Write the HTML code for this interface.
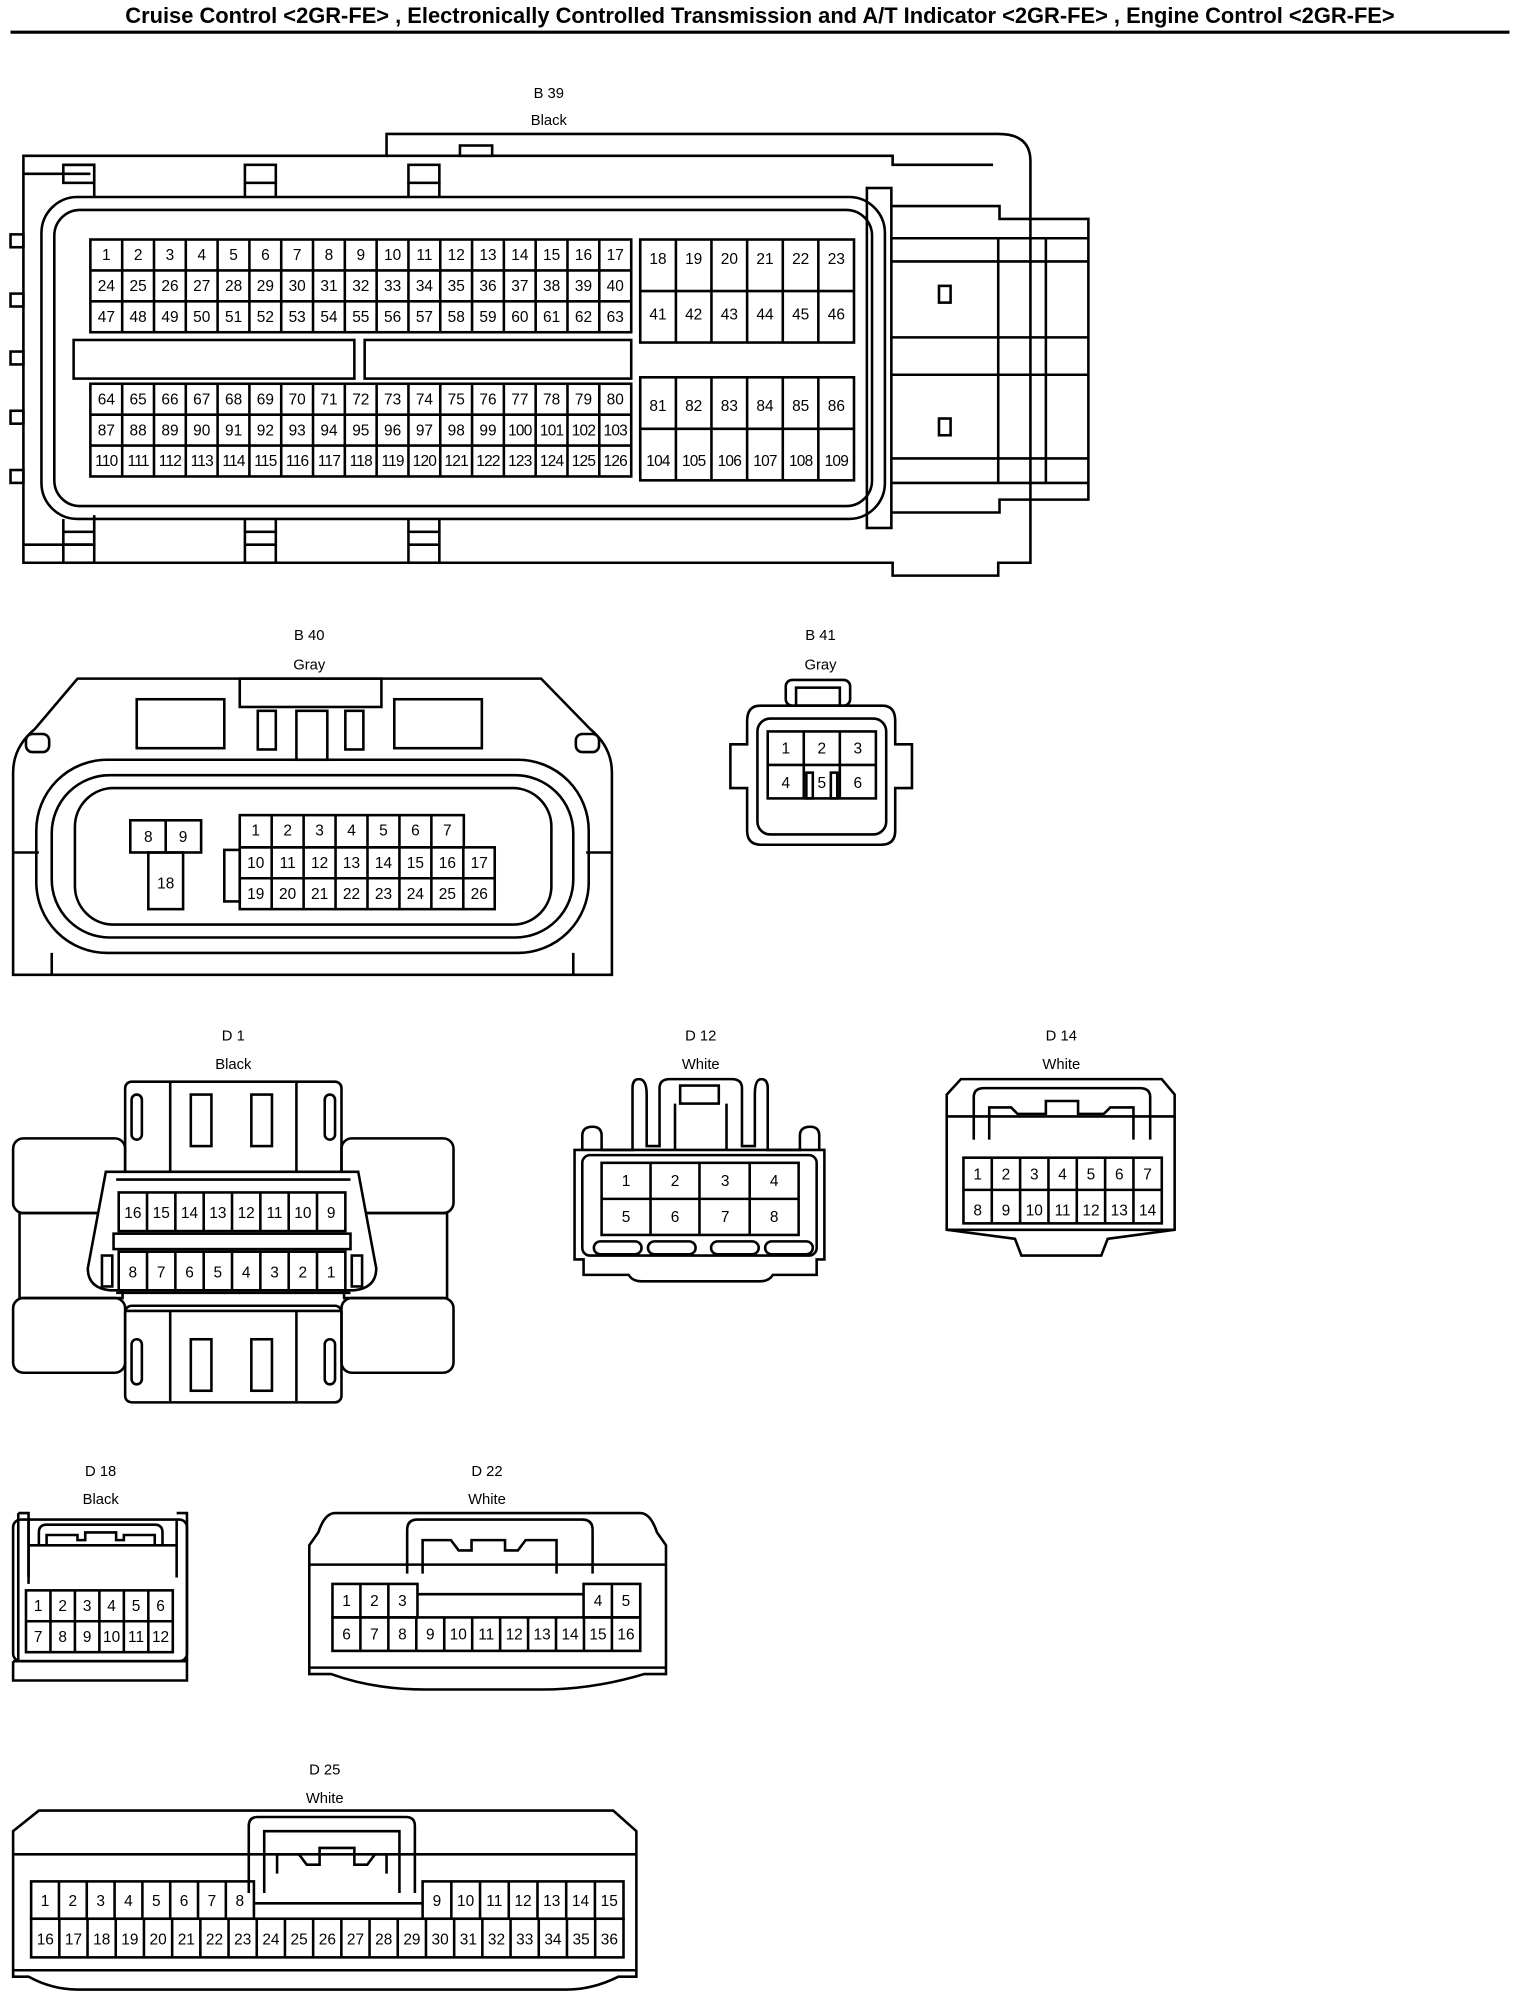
<!DOCTYPE html>
<html><head><meta charset="utf-8"><style>
html,body{margin:0;padding:0;background:#fff}
svg{display:block}
text{font-family:"Liberation Sans",sans-serif;font-size:12px;fill:#000;text-anchor:middle}
.t{font-size:11.5px}
.h{font-weight:bold;font-size:17px}
.n{letter-spacing:-0.6px}
</style></head><body>
<svg width="1520" height="1996" viewBox="0 0 1180 1550" xmlns="http://www.w3.org/2000/svg">
<g fill="none" stroke="#000" stroke-width="2">
<text class="h" x="590" y="18" stroke="none">Cruise Control &lt;2GR-FE&gt; , Electronically Controlled Transmission and A/T Indicator &lt;2GR-FE&gt; , Engine Control &lt;2GR-FE&gt;</text>
<line x1="8" y1="25" x2="1172" y2="25" stroke-width="2.5"/>

<!-- B39 -->
<text class="t" x="426" y="76" stroke="none">B 39</text>
<text class="t" x="426" y="97" stroke="none">Black</text>
<path d="M18 121 H300 V104 H775 Q800 104 800 125 V437 H775 V447 H693 V437 H18 Z"/>
<path d="M18 135 H70 M18 423 H70"/>
<rect x="357" y="113" width="25" height="8"/>
<path d="M300 121 H693 V128 H771"/>
<path d="M50 128 H73 V153 M50 423 H73 V400"/>
<rect x="49" y="128" width="24" height="14"/><rect x="190" y="128" width="24" height="14"/><rect x="317" y="128" width="24" height="14"/>
<path d="M190 142 V153 M214 142 V153 M317 142 V153 M341 142 V153"/>
<rect x="49" y="413" width="24" height="24"/><rect x="190" y="413" width="24" height="24"/><rect x="317" y="413" width="24" height="24"/>
<path d="M49 423 H73 M190 423 H214 M317 423 H341 M190 403 V413 M214 403 V413 M317 403 V413 M341 403 V413 M49 403 V413 M73 403 V413"/>
<rect x="8" y="182" width="10" height="10"/><rect x="8" y="228" width="10" height="10"/><rect x="8" y="273" width="10" height="10"/><rect x="8" y="319" width="10" height="10"/><rect x="8" y="365" width="10" height="10"/>
<rect x="32" y="153" width="655" height="250" rx="28"/>
<rect x="42" y="163" width="635" height="230" rx="20"/>
<rect x="673" y="146" width="19" height="264"/>
<path d="M692 160 H776 V170 H845 V388 H776 V398 H692"/>
<path d="M692 185 H845 M692 203 H845 M692 262 H845 M692 291 H845 M692 356 H845 M692 375 H845 M775 185 V375 M812 185 V375"/>
<rect x="729" y="222" width="9" height="13"/><rect x="729" y="325" width="9" height="13"/>
<rect x="57" y="264" width="218" height="30"/><rect x="283" y="264" width="207" height="30"/>
<rect x="70" y="186" width="420" height="72"/>
<path d="M70 210 H490 M70 234 H490 M94.7 186V258M119.4 186V258M144.1 186V258M168.8 186V258M193.5 186V258M218.2 186V258M242.9 186V258M267.6 186V258M292.3 186V258M317 186V258M341.7 186V258M366.4 186V258M391.1 186V258M415.8 186V258M440.5 186V258M465.2 186V258"/>
<rect x="70" y="298" width="420" height="72"/>
<path d="M70 322 H490 M70 346 H490 M94.7 298V370M119.4 298V370M144.1 298V370M168.8 298V370M193.5 298V370M218.2 298V370M242.9 298V370M267.6 298V370M292.3 298V370M317 298V370M341.7 298V370M366.4 298V370M391.1 298V370M415.8 298V370M440.5 298V370M465.2 298V370"/>
<rect x="497" y="186" width="166" height="80"/>
<path d="M497 226 H663 M524.7 186V266M552.3 186V266M580 186V266M607.7 186V266M635.3 186V266"/>
<rect x="497" y="293" width="166" height="80"/>
<path d="M497 333 H663 M524.7 293V373M552.3 293V373M580 293V373M607.7 293V373M635.3 293V373"/>
</g>
<g>
<text x="82.4" y="202">1</text><text x="107.1" y="202">2</text><text x="131.8" y="202">3</text><text x="156.5" y="202">4</text><text x="181.2" y="202">5</text><text x="205.9" y="202">6</text><text x="230.6" y="202">7</text><text x="255.3" y="202">8</text><text x="280" y="202">9</text><text x="304.7" y="202">10</text><text x="329.4" y="202">11</text><text x="354.1" y="202">12</text><text x="378.8" y="202">13</text><text x="403.5" y="202">14</text><text x="428.2" y="202">15</text><text x="452.9" y="202">16</text><text x="477.6" y="202">17</text>
<text x="82.4" y="226">24</text><text x="107.1" y="226">25</text><text x="131.8" y="226">26</text><text x="156.5" y="226">27</text><text x="181.2" y="226">28</text><text x="205.9" y="226">29</text><text x="230.6" y="226">30</text><text x="255.3" y="226">31</text><text x="280" y="226">32</text><text x="304.7" y="226">33</text><text x="329.4" y="226">34</text><text x="354.1" y="226">35</text><text x="378.8" y="226">36</text><text x="403.5" y="226">37</text><text x="428.2" y="226">38</text><text x="452.9" y="226">39</text><text x="477.6" y="226">40</text>
<text x="82.4" y="250">47</text><text x="107.1" y="250">48</text><text x="131.8" y="250">49</text><text x="156.5" y="250">50</text><text x="181.2" y="250">51</text><text x="205.9" y="250">52</text><text x="230.6" y="250">53</text><text x="255.3" y="250">54</text><text x="280" y="250">55</text><text x="304.7" y="250">56</text><text x="329.4" y="250">57</text><text x="354.1" y="250">58</text><text x="378.8" y="250">59</text><text x="403.5" y="250">60</text><text x="428.2" y="250">61</text><text x="452.9" y="250">62</text><text x="477.6" y="250">63</text>
<text x="82.4" y="314">64</text><text x="107.1" y="314">65</text><text x="131.8" y="314">66</text><text x="156.5" y="314">67</text><text x="181.2" y="314">68</text><text x="205.9" y="314">69</text><text x="230.6" y="314">70</text><text x="255.3" y="314">71</text><text x="280" y="314">72</text><text x="304.7" y="314">73</text><text x="329.4" y="314">74</text><text x="354.1" y="314">75</text><text x="378.8" y="314">76</text><text x="403.5" y="314">77</text><text x="428.2" y="314">78</text><text x="452.9" y="314">79</text><text x="477.6" y="314">80</text>
<text x="82.4" y="338">87</text><text x="107.1" y="338">88</text><text x="131.8" y="338">89</text><text x="156.5" y="338">90</text><text x="181.2" y="338">91</text><text x="205.9" y="338">92</text><text x="230.6" y="338">93</text><text x="255.3" y="338">94</text><text x="280" y="338">95</text><text x="304.7" y="338">96</text><text x="329.4" y="338">97</text><text x="354.1" y="338">98</text><text x="378.8" y="338">99</text><text class="n" x="403.5" y="338">100</text><text class="n" x="428.2" y="338">101</text><text class="n" x="452.9" y="338">102</text><text class="n" x="477.6" y="338">103</text>
<text class="n" x="82.4" y="362">110</text><text class="n" x="107.1" y="362">111</text><text class="n" x="131.8" y="362">112</text><text class="n" x="156.5" y="362">113</text><text class="n" x="181.2" y="362">114</text><text class="n" x="205.9" y="362">115</text><text class="n" x="230.6" y="362">116</text><text class="n" x="255.3" y="362">117</text><text class="n" x="280" y="362">118</text><text class="n" x="304.7" y="362">119</text><text class="n" x="329.4" y="362">120</text><text class="n" x="354.1" y="362">121</text><text class="n" x="378.8" y="362">122</text><text class="n" x="403.5" y="362">123</text><text class="n" x="428.2" y="362">124</text><text class="n" x="452.9" y="362">125</text><text class="n" x="477.6" y="362">126</text>
<text x="510.8" y="205">18</text><text x="538.5" y="205">19</text><text x="566.2" y="205">20</text><text x="593.9" y="205">21</text><text x="621.6" y="205">22</text><text x="649.3" y="205">23</text>
<text x="510.8" y="248">41</text><text x="538.5" y="248">42</text><text x="566.2" y="248">43</text><text x="593.9" y="248">44</text><text x="621.6" y="248">45</text><text x="649.3" y="248">46</text>
<text x="510.8" y="319">81</text><text x="538.5" y="319">82</text><text x="566.2" y="319">83</text><text x="593.9" y="319">84</text><text x="621.6" y="319">85</text><text x="649.3" y="319">86</text>
<text class="n" x="510.8" y="362">104</text><text class="n" x="538.5" y="362">105</text><text class="n" x="566.2" y="362">106</text><text class="n" x="593.9" y="362">107</text><text class="n" x="621.6" y="362">108</text><text class="n" x="649.3" y="362">109</text>
</g>

<!-- B40 -->
<g fill="none" stroke="#000" stroke-width="2">
<text class="t" x="240" y="497" stroke="none">B 40</text>
<text class="t" x="240" y="520" stroke="none">Gray</text>
<path d="M60 527 H420 L458 566 Q475 580 475 600 V757 H10 V600 Q10 580 27 566 Z"/>
<rect x="20" y="570" width="18" height="14" rx="5"/><rect x="447" y="570" width="18" height="14" rx="5"/>
<rect x="106" y="543" width="68" height="38"/><rect x="306" y="543" width="68" height="38"/>
<rect x="186" y="527" width="110" height="22"/><rect x="200" y="552" width="14" height="30"/><rect x="230" y="552" width="24" height="38"/><rect x="268" y="552" width="14" height="30"/>
<rect x="28" y="590" width="429" height="150" rx="55"/>
<rect x="40" y="602" width="405" height="126" rx="45"/>
<rect x="58" y="612" width="370" height="106" rx="30"/>
<path d="M10 662 H30 M455 662 H475 M40 740 V757 M445 740 V757"/>
<rect x="101" y="637" width="55" height="25"/><path d="M128.5 637 V662"/>
<rect x="115" y="662" width="27" height="44"/>
<rect x="174" y="660" width="12" height="40"/>
<rect x="186" y="633" width="174" height="25"/>
<path d="M210.8 633V658M235.6 633V658M260.4 633V658M285.2 633V658M310 633V658M334.8 633V658"/>
<rect x="186" y="658" width="198" height="48"/>
<path d="M186 682 H384 M210.8 658V706M235.6 658V706M260.4 658V706M285.2 658V706M310 658V706M334.8 658V706M359.6 658V706"/>
</g>
<g>
<text x="115" y="654">8</text><text x="142" y="654">9</text><text x="128.5" y="690">18</text>
<text x="198.4" y="649">1</text><text x="223.2" y="649">2</text><text x="248" y="649">3</text><text x="272.8" y="649">4</text><text x="297.6" y="649">5</text><text x="322.4" y="649">6</text><text x="347.2" y="649">7</text>
<text x="198.4" y="674">10</text><text x="223.2" y="674">11</text><text x="248" y="674">12</text><text x="272.8" y="674">13</text><text x="297.6" y="674">14</text><text x="322.4" y="674">15</text><text x="347.2" y="674">16</text><text x="372" y="674">17</text>
<text x="198.4" y="698">19</text><text x="223.2" y="698">20</text><text x="248" y="698">21</text><text x="272.8" y="698">22</text><text x="297.6" y="698">23</text><text x="322.4" y="698">24</text><text x="347.2" y="698">25</text><text x="372" y="698">26</text>
</g>

<!-- B41 -->
<g fill="none" stroke="#000" stroke-width="2">
<text class="t" x="637" y="497" stroke="none">B 41</text>
<text class="t" x="637" y="520" stroke="none">Gray</text>
<rect x="610" y="528" width="50" height="20" rx="5"/><rect x="618" y="534" width="34" height="14"/>
<path d="M590 548 H685 Q695 548 695 560 V578 H708 V612 H695 V645 Q695 656 684 656 H591 Q580 656 580 645 V612 H567 V578 H580 V560 Q580 548 590 548 Z"/>
<rect x="588" y="558" width="100" height="90" rx="10"/>
<rect x="596" y="568" width="84" height="52"/>
<path d="M596 594 H680 M624 568 V620 M652 568 V620"/>
<rect x="626" y="600" width="5" height="20"/><rect x="645" y="600" width="5" height="20"/>
</g>
<g><text x="610" y="585">1</text><text x="638" y="585">2</text><text x="666" y="585">3</text><text x="610" y="612">4</text><text x="638" y="612">5</text><text x="666" y="612">6</text></g>

<!-- D1 -->
<g fill="none" stroke="#000" stroke-width="2">
<text class="t" x="181" y="808" stroke="none">D 1</text>
<text class="t" x="181" y="830" stroke="none">Black</text>
<rect x="97" y="840" width="168" height="75" rx="5"/>
<rect x="97" y="1014" width="168" height="75" rx="5"/>
<path d="M97 910 H265 M97 1018 H265 M132 840 V910 M230 840 V910 M132 1018 V1088 M230 1018 V1088"/>
<rect x="148" y="850" width="16" height="40"/><rect x="195" y="850" width="16" height="40"/>
<rect x="148" y="1040" width="16" height="40"/><rect x="195" y="1040" width="16" height="40"/>
<rect x="102" y="850" width="8" height="35" rx="4"/><rect x="252" y="850" width="8" height="35" rx="4"/>
<rect x="102" y="1040" width="8" height="35" rx="4"/><rect x="252" y="1040" width="8" height="35" rx="4"/>
<rect x="10" y="884" width="87" height="58" rx="8"/><rect x="265" y="884" width="87" height="58" rx="8"/>
<rect x="10" y="1008" width="87" height="58" rx="8"/><rect x="265" y="1008" width="87" height="58" rx="8"/>
<rect x="15" y="942" width="80" height="66"/><rect x="267" y="942" width="80" height="66"/>
<path d="M82 910 L68 985 Q68 1000 85 1002 L275 1002 Q292 1000 292 985 L278 910 Z" fill="#fff"/>
<path d="M90 916 H272 M90 1004 H272"/>
<rect x="92" y="926" width="176" height="30"/>
<path d="M114 926V956M136 926V956M158 926V956M180 926V956M202 926V956M224 926V956M246 926V956"/>
<rect x="88" y="958" width="184" height="12"/>
<rect x="92" y="972" width="176" height="30"/>
<path d="M114 972V1002M136 972V1002M158 972V1002M180 972V1002M202 972V1002M224 972V1002M246 972V1002"/>
<rect x="79" y="975" width="8" height="24"/><rect x="273" y="975" width="8" height="24"/>
</g>
<g>
<text x="103" y="946">16</text><text x="125" y="946">15</text><text x="147" y="946">14</text><text x="169" y="946">13</text><text x="191" y="946">12</text><text x="213" y="946">11</text><text x="235" y="946">10</text><text x="257" y="946">9</text>
<text x="103" y="992">8</text><text x="125" y="992">7</text><text x="147" y="992">6</text><text x="169" y="992">5</text><text x="191" y="992">4</text><text x="213" y="992">3</text><text x="235" y="992">2</text><text x="257" y="992">1</text>
</g>

<!-- D12 -->
<g fill="none" stroke="#000" stroke-width="2">
<text class="t" x="544" y="808" stroke="none">D 12</text>
<text class="t" x="544" y="830" stroke="none">White</text>
<path d="M452 893 V882 Q452 875 460 875 Q467 875 467 882 V893 H491 V845 Q491 838 496 838 Q502 838 502 850 V890 H512 V845 Q512 838 520 838 H568 Q576 838 576 845 V890 H586 V850 Q586 838 591 838 Q596 838 596 845 V893 H621 V882 Q621 875 629 875 Q636 875 636 882 V893"/>
<rect x="528" y="843" width="30" height="14"/>
<path d="M524 857 V893 M564 857 V893"/>
<path d="M446 893 H640 V978 H634 V990 H600 Q597 995 590 995 H498 Q491 995 488 990 H453 V978 H446 Z"/>
<rect x="452" y="897" width="182" height="78" rx="6"/>
<rect x="467" y="903" width="153" height="56"/>
<path d="M467 931 H620 M505 903V959M543 903V959M582 903V959"/>
<rect x="461" y="964" width="37" height="10" rx="5"/><rect x="503" y="964" width="37" height="10" rx="5"/><rect x="552" y="964" width="37" height="10" rx="5"/><rect x="594" y="964" width="37" height="10" rx="5"/>
</g>
<g><text x="486" y="921">1</text><text x="524" y="921">2</text><text x="563" y="921">3</text><text x="601" y="921">4</text><text x="486" y="949">5</text><text x="524" y="949">6</text><text x="563" y="949">7</text><text x="601" y="949">8</text></g>

<!-- D14 -->
<g fill="none" stroke="#000" stroke-width="2">
<text class="t" x="824" y="808" stroke="none">D 14</text>
<text class="t" x="824" y="830" stroke="none">White</text>
<path d="M746 838 H902 L912 850 V955 L860 962 L855 975 H793 L788 962 L735 955 V850 Z"/>
<path d="M735 955 H912 M735 867 H912"/>
<path d="M756 885 V852 Q756 845 764 845 H885 Q893 845 893 852 V885"/>
<path d="M768 885 V860 H785 L790 865 H812 V855 H837 V865 H857 L862 860 H880 V885"/>
<rect x="748" y="899" width="154" height="51"/>
<path d="M748 924 H902 M770 899V950M792 899V950M814 899V950M836 899V950M858 899V950M880 899V950"/>
</g>
<g><text x="759" y="916">1</text><text x="781" y="916">2</text><text x="803" y="916">3</text><text x="825" y="916">4</text><text x="847" y="916">5</text><text x="869" y="916">6</text><text x="891" y="916">7</text>
<text x="759" y="944">8</text><text x="781" y="944">9</text><text x="803" y="944">10</text><text x="825" y="944">11</text><text x="847" y="944">12</text><text x="869" y="944">13</text><text x="891" y="944">14</text></g>

<!-- D18 -->
<g fill="none" stroke="#000" stroke-width="2">
<text class="t" x="78" y="1146" stroke="none">D 18</text>
<text class="t" x="78" y="1168" stroke="none">Black</text>
<path d="M14 1175 H22 V1230 M137 1175 H145 V1290 M14 1175 V1290"/>
<path d="M10 1290 V1305 H145 V1290 H10"/>
<path d="M22 1180 V1225 M137 1180 V1225"/>
<rect x="10" y="1180" width="135" height="110" rx="6"/>
<path d="M30 1200 V1190 Q30 1184 36 1184 H120 Q126 1184 126 1190 V1200"/>
<path d="M36 1200 V1192 H60 V1196 H66 V1190 H90 V1196 H96 V1192 H120 V1200 M22 1200 H137"/>
<rect x="20" y="1235" width="114" height="48"/>
<path d="M20 1259 H134 M39 1235V1283M58 1235V1283M77 1235V1283M96 1235V1283M115 1235V1283"/>
</g>
<g><text x="29.5" y="1251">1</text><text x="48.5" y="1251">2</text><text x="67.5" y="1251">3</text><text x="86.5" y="1251">4</text><text x="105.5" y="1251">5</text><text x="124.5" y="1251">6</text>
<text x="29.5" y="1275">7</text><text x="48.5" y="1275">8</text><text x="67.5" y="1275">9</text><text x="86.5" y="1275">10</text><text x="105.5" y="1275">11</text><text x="124.5" y="1275">12</text></g>

<!-- D22 -->
<g fill="none" stroke="#000" stroke-width="2">
<text class="t" x="378" y="1146" stroke="none">D 22</text>
<text class="t" x="378" y="1168" stroke="none">White</text>
<path d="M260 1175 H497 Q505 1175 510 1190 L517 1200 V1300 L500 1300 Q460 1312 420 1312 H330 Q290 1312 257 1300 H240 V1200 L247 1190 Q252 1175 260 1175 Z"/>
<path d="M240 1215 H517 M240 1295 H517"/>
<path d="M316 1222 V1188 Q316 1180 324 1180 H452 Q460 1180 460 1188 V1222"/>
<path d="M328 1222 V1196 H350 L356 1204 H366 V1196 H392 V1204 H402 L408 1196 H432 V1222"/>
<rect x="258" y="1230" width="66" height="26"/><path d="M279.7 1230V1256M301.4 1230V1256"/>
<rect x="453" y="1230" width="44" height="26"/><path d="M475 1230V1256"/>
<path d="M324 1238 H453"/>
<rect x="258" y="1256" width="239" height="26"/>
<path d="M279.7 1256V1282M301.4 1256V1282M323.1 1256V1282M344.8 1256V1282M366.5 1256V1282M388.2 1256V1282M409.9 1256V1282M431.6 1256V1282M453.3 1256V1282M475 1256V1282"/>
</g>
<g><text x="268.9" y="1247">1</text><text x="290.6" y="1247">2</text><text x="312.3" y="1247">3</text><text x="464.2" y="1247">4</text><text x="485.9" y="1247">5</text>
<text x="268.9" y="1273">6</text><text x="290.6" y="1273">7</text><text x="312.3" y="1273">8</text><text x="334" y="1273">9</text><text x="355.7" y="1273">10</text><text x="377.4" y="1273">11</text><text x="399.1" y="1273">12</text><text x="420.8" y="1273">13</text><text x="442.5" y="1273">14</text><text x="464.2" y="1273">15</text><text x="485.9" y="1273">16</text></g>

<!-- D25 -->
<g fill="none" stroke="#000" stroke-width="2">
<text class="t" x="252" y="1378" stroke="none">D 25</text>
<text class="t" x="252" y="1400" stroke="none">White</text>
<path d="M30 1406 H476 L494 1422 V1535 H480 Q460 1545 440 1545 H60 Q40 1545 22 1535 H10 V1422 Z"/>
<path d="M10 1440 H494 M10 1530 H494"/>
<path d="M193 1470 V1418 Q193 1411 200 1411 H315 Q322 1411 322 1418 V1470"/>
<path d="M205 1470 V1422 H310 V1470"/>
<path d="M215 1455 V1440 H232 L238 1448 H248 V1435 H275 V1448 H285 L291 1440 H300 V1455"/>
<rect x="24" y="1461" width="173" height="29"/>
<path d="M45.6 1461V1490M67.2 1461V1490M88.8 1461V1490M110.4 1461V1490M132 1461V1490M153.6 1461V1490M175.2 1461V1490"/>
<rect x="328" y="1461" width="156" height="29"/>
<path d="M350.3 1461V1490M372.6 1461V1490M394.9 1461V1490M417.2 1461V1490M439.5 1461V1490M461.8 1461V1490"/>
<path d="M197 1478 H328"/>
<rect x="24" y="1490" width="460" height="30"/>
<path d="M45.9 1490V1520M67.8 1490V1520M89.7 1490V1520M111.6 1490V1520M133.5 1490V1520M155.4 1490V1520M177.3 1490V1520M199.2 1490V1520M221.1 1490V1520M243 1490V1520M264.9 1490V1520M286.8 1490V1520M308.7 1490V1520M330.6 1490V1520M352.5 1490V1520M374.4 1490V1520M396.3 1490V1520M418.2 1490V1520M440.1 1490V1520M462 1490V1520"/>
</g>
<g><text x="34.8" y="1480">1</text><text x="56.4" y="1480">2</text><text x="78" y="1480">3</text><text x="99.6" y="1480">4</text><text x="121.2" y="1480">5</text><text x="142.8" y="1480">6</text><text x="164.4" y="1480">7</text><text x="186" y="1480">8</text>
<text x="339.1" y="1480">9</text><text x="361.4" y="1480">10</text><text x="383.7" y="1480">11</text><text x="406" y="1480">12</text><text x="428.3" y="1480">13</text><text x="450.6" y="1480">14</text><text x="472.9" y="1480">15</text>
<text x="35" y="1510">16</text><text x="56.9" y="1510">17</text><text x="78.8" y="1510">18</text><text x="100.7" y="1510">19</text><text x="122.6" y="1510">20</text><text x="144.5" y="1510">21</text><text x="166.4" y="1510">22</text><text x="188.3" y="1510">23</text><text x="210.2" y="1510">24</text><text x="232.1" y="1510">25</text><text x="254" y="1510">26</text><text x="275.9" y="1510">27</text><text x="297.8" y="1510">28</text><text x="319.7" y="1510">29</text><text x="341.6" y="1510">30</text><text x="363.5" y="1510">31</text><text x="385.4" y="1510">32</text><text x="407.3" y="1510">33</text><text x="429.2" y="1510">34</text><text x="451.1" y="1510">35</text><text x="473" y="1510">36</text></g>
</svg>
</body></html>
